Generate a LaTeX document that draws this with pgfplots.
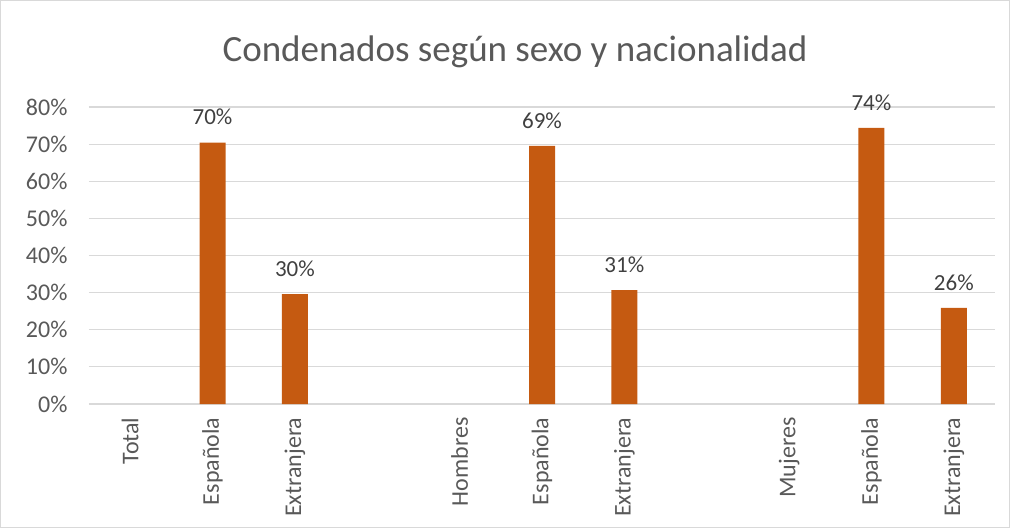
\documentclass[border=0pt]{standalone}
\usepackage{pgfplots}
\pgfplotsset{compat=1.18}
\usepackage{fontspec}
\setmainfont{Carlito}
\definecolor{barc}{HTML}{C55A11}
\definecolor{tickc}{HTML}{595959}
\definecolor{gridc}{HTML}{D9D9D9}
\definecolor{labc}{HTML}{404040}
\begin{document}
\begin{tikzpicture}[x=1pt,y=1pt]
\draw[gridc, line width=1pt] (0.5,0.5) rectangle (1009.5,527.5);
\node[text=tickc, font=\fontsize{37}{44}\selectfont] at (515,476) {Condenados según sexo y nacionalidad};
\begin{axis}[
  at={(89pt,124pt)}, anchor=south west,
  scale only axis, width=906pt, height=297pt,
  xmin=-0.5, xmax=10.5, ymin=0, ymax=80,
  ytick={0,10,...,80},
  yticklabel={\pgfmathprintnumber{\tick}\%},
  /pgf/number format/assume math mode=true,
  xtick={0,1,2,4,5,6,8,9,10},
  xticklabels={Total,Española,Extranjera,Hombres,Española,Extranjera,Mujeres,Española,Extranjera},
  x tick label style={rotate=90, anchor=east, text=tickc, font=\fontsize{24}{28}\selectfont, xshift=-10pt},
  y tick label style={text=tickc, font=\fontsize{24}{28}\selectfont, xshift=-18pt},
  major tick length=0pt,
  ymajorgrids, grid style={gridc, line width=1.2pt},
  axis x line*=bottom, axis y line*=left,
  y axis line style={draw=none},
  x axis line style={gridc, line width=1.2pt, -},
  ybar, bar width=26pt,
  nodes near coords, point meta=explicit symbolic,
  every node near coord/.append style={text=labc, font=\fontsize{23}{27}\selectfont, yshift=14pt},
  clip=false,
]
\addplot[fill=barc, draw=none] coordinates {
  (1,70.4)[70\%] (2,29.6)[30\%] (5,69.5)[69\%] (6,30.7)[31\%] (9,74.4)[74\%] (10,25.9)[26\%]
};
\end{axis}
\end{tikzpicture}
\end{document}
